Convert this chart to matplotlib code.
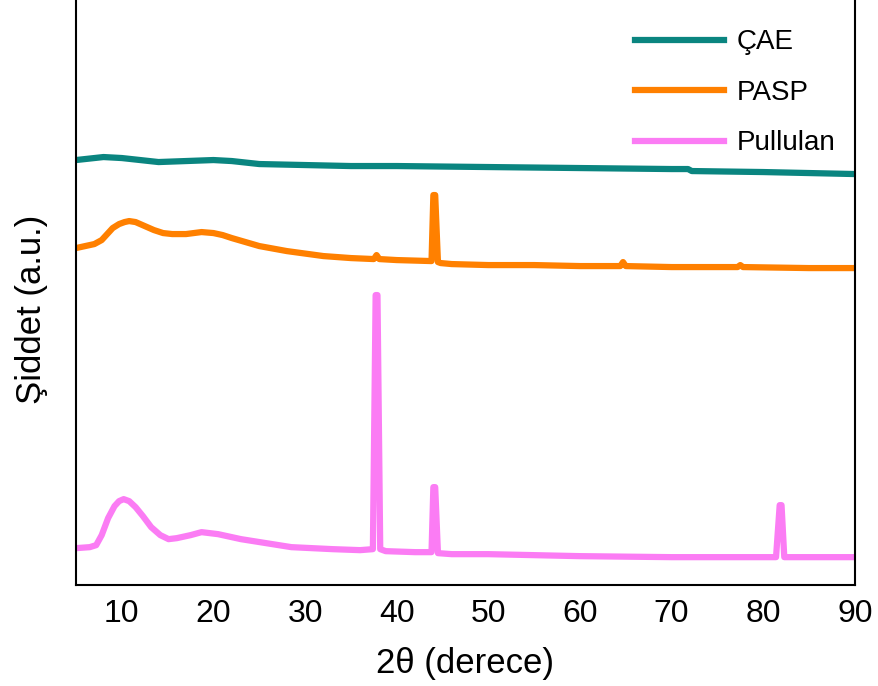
import matplotlib
matplotlib.use('Agg')
import matplotlib.pyplot as plt
import numpy as np

plt.rcParams['font.family'] = ['Liberation Sans', 'DejaVu Sans']

# ÇAE
cae_x = [5, 6, 8, 10, 12, 14, 17, 20, 22, 25, 30, 35, 40, 50, 60, 70, 71.8, 72.2, 80, 90]
cae_y = [425, 426, 428, 427, 425, 423, 424, 425, 424, 421, 420, 419, 419, 418, 417, 416, 416, 414, 413, 411]

# PASP
pasp_x = [5, 6, 7, 7.8, 8.3, 9, 9.7, 10.3, 10.8, 11.5, 12.5, 13.5, 14.5, 15.5, 17, 18.7, 20, 21, 22,
          25, 28, 32, 35, 37.5, 37.8, 38.1, 40, 43.8, 44.0, 44.2, 44.5, 44.8, 46, 50, 55, 60,
          64.4, 64.7, 65.0, 70, 77.2, 77.5, 77.8, 85, 90]
pasp_y = [337, 339, 341, 345, 350, 357, 361, 363, 364, 363, 359, 355, 352, 351, 351, 353, 352, 350, 347,
          339, 334, 329, 327, 326, 330, 326, 325, 324, 390, 390, 323, 322, 321, 320, 320, 319,
          319, 323, 319, 318, 318, 320, 318, 317, 317]

# Pullulan
pul_x = [5, 6.5, 7.2, 7.8, 8.5, 9.2, 9.7, 10.2, 10.8, 11.5, 12.3, 13.2, 14.2, 15.1, 16, 17.5, 18.7,
         20.5, 23, 28.5, 33, 36, 37.4, 37.7, 37.9, 38.2, 38.8, 42, 43.8, 44.0, 44.2, 44.5, 46, 50, 60,
         70, 81.4, 81.8, 82.0, 82.3, 85, 90]
pul_y = [37, 38, 40, 50, 67, 79, 84, 86, 84, 78, 69, 58, 50, 46, 47, 50, 53, 51, 46, 38, 36, 35, 36,
         290, 290, 36, 34, 33, 33, 98, 98, 32, 31, 31, 29, 28, 28, 80, 80, 28, 28, 28]

x_ticks = [10, 20, 30, 40, 50, 60, 70, 80, 90]

fig = plt.figure(figsize=(8.79, 6.86), dpi=100)
ax = fig.add_axes([0.0865, 0.147, 0.886, 0.853])

ax.plot(cae_x, cae_y, color='#0a8580', lw=4.5, label='ÇAE')
ax.plot(pasp_x, pasp_y, color='#ff8000', lw=4.5, label='PASP')
ax.plot(pul_x, pul_y, color='#fb7cf4', lw=4.5, label='Pullulan')

ax.set_xlim(5, 90)
ax.set_ylim(0, 585)
ax.set_xticks(x_ticks)
ax.set_yticks([])
ax.tick_params(axis='x', length=0, labelsize=23, pad=10)
ax.spines['top'].set_visible(False)
for s in ['left', 'right', 'bottom']:
    ax.spines[s].set_linewidth(1.5)

ax.set_xlabel('2θ (derece)', fontsize=25, labelpad=13)
ax.set_ylabel('Şiddet (a.u.)', fontsize=25)
ax.yaxis.set_label_coords(-0.036, 0.472)

ax.legend(loc='upper right', bbox_to_anchor=(1.0, 0.983), frameon=False, fontsize=20,
          handlelength=3.2, labelspacing=0.88, handletextpad=0.45, borderaxespad=0.3)

plt.savefig('out.png', dpi=100)
